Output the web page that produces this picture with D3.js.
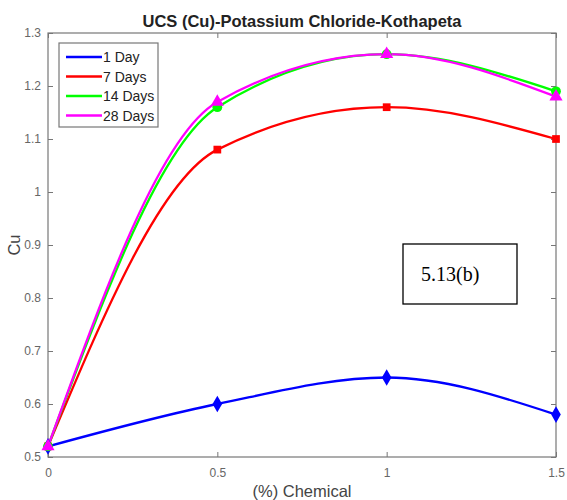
<!DOCTYPE html>
<html>
<head>
<meta charset="utf-8">
<title>UCS (Cu)-Potassium Chloride-Kothapeta</title>
<script src="https://cdn.jsdelivr.net/npm/d3@7/dist/d3.min.js"></script>
<style>
  body { margin: 0; background: #fff; }
  svg { display: block; font-family: "Liberation Sans", Arial, sans-serif; }
</style>
</head>
<body>
<svg id="viz" width="567" height="500"></svg>
<script>
// chart data
var chemical = [0, 0.5, 1, 1.5];
var seriesNames = ["1 Day", "7 Days", "14 Days", "28 Days"];
var seriesColors = ["#0000ff", "#ff0000", "#00ff00", "#ff00ff"];
var seriesMarkers = ["diamond", "square", "circle", "triangle"];
var day1 = [0.52, 0.60, 0.65, 0.58];
var day7 = [0.52, 1.08, 1.16, 1.10];
var day14 = [0.52, 1.16, 1.26, 1.19];
var day28 = [0.52, 1.17, 1.26, 1.18];
var xTicks = [0, 0.5, 1, 1.5];
var yTicks = [0.5, 0.6, 0.7, 0.8, 0.9, 1, 1.1, 1.2, 1.3];

var allSeries = [day1, day7, day14, day28];

var svg = d3.select("#viz");
// plot box edges (note: "top" is reserved on window)
var pLeft = 48, pRight = 556, pTop = 33, pBottom = 457;

var x = d3.scaleLinear().domain([0, 1.5]).range([pLeft, pRight]);
var y = d3.scaleLinear().domain([0.5, 1.3]).range([pBottom, pTop]);

var axisColor = "#777";
var labelColor = "#666";

// box
svg.append("rect")
    .attr("x", pLeft).attr("y", pTop)
    .attr("width", pRight - pLeft).attr("height", pBottom - pTop)
    .attr("fill", "none").attr("stroke", axisColor).attr("stroke-width", 1.2);

// axes (ticks inside)
var xAxis = svg.append("g").attr("transform", "translate(0," + pBottom + ")")
    .call(d3.axisBottom(x).tickValues(xTicks).tickSizeInner(-5).tickSizeOuter(0).tickPadding(11)
        .tickFormat(function(d) { return String(d); }));
var xTop = svg.append("g").attr("transform", "translate(0," + pTop + ")")
    .call(d3.axisTop(x).tickValues(xTicks).tickSizeInner(-5).tickSizeOuter(0).tickFormat(""));
var yAxis = svg.append("g").attr("transform", "translate(" + pLeft + ",0)")
    .call(d3.axisLeft(y).tickValues(yTicks).tickSizeInner(-5).tickSizeOuter(0).tickPadding(7)
        .tickFormat(function(d) { return String(+d.toFixed(1)); }));
var yRight = svg.append("g").attr("transform", "translate(" + pRight + ",0)")
    .call(d3.axisRight(y).tickValues(yTicks).tickSizeInner(-5).tickSizeOuter(0).tickFormat(""));

[xAxis, xTop, yAxis, yRight].forEach(function(g) {
    g.select(".domain").remove();
    g.selectAll("line").attr("stroke", axisColor);
    g.selectAll("text").attr("fill", labelColor).style("font-size", "12px");
});

// curves (shape-preserving, like pchip)
var line = d3.line()
    .x(function(d, i) { return x(chemical[i]); })
    .y(function(d) { return y(d); })
    .curve(d3.curveMonotoneX);

allSeries.forEach(function(s, k) {
    svg.append("path")
        .datum(s)
        .attr("d", line)
        .attr("fill", "none")
        .attr("stroke", seriesColors[k])
        .attr("stroke-width", 2.3);
});

// markers
var symbolType = {
    diamond: d3.symbolDiamond,
    square: d3.symbolSquare,
    circle: d3.symbolCircle,
    triangle: d3.symbolTriangle
};
var symbolSize = { diamond: 80, square: 60, circle: 75, triangle: 75 };

allSeries.forEach(function(s, k) {
    var m = seriesMarkers[k];
    svg.append("g").selectAll("path")
        .data(s)
        .enter()
        .append("path")
        .attr("transform", function(d, i) { return "translate(" + x(chemical[i]) + "," + y(d) + ")"; })
        .attr("d", d3.symbol().type(symbolType[m]).size(symbolSize[m]))
        .attr("fill", seriesColors[k]);
});

// title
svg.append("text")
    .attr("x", 302).attr("y", 27)
    .attr("text-anchor", "middle")
    .style("font-size", "16.5px").style("font-weight", "bold")
    .attr("fill", "#222")
    .text("UCS (Cu)-Potassium Chloride-Kothapeta");

// axis labels
svg.append("text")
    .attr("x", 302).attr("y", 497)
    .attr("text-anchor", "middle")
    .style("font-size", "16.5px")
    .attr("fill", "#444")
    .text("(%) Chemical");

svg.append("text")
    .attr("transform", "translate(20," + ((pTop + pBottom) / 2) + ") rotate(-90)")
    .attr("text-anchor", "middle")
    .style("font-size", "16.5px")
    .attr("fill", "#444")
    .text("Cu");

// legend
var legend = svg.append("g").attr("transform", "translate(59,43)");
legend.append("rect")
    .attr("width", 99).attr("height", 84)
    .attr("fill", "#fff").attr("stroke", axisColor).attr("stroke-width", 1.2);
seriesNames.forEach(function(name, k) {
    var ly = 14 + k * 19.5;
    legend.append("line")
        .attr("x1", 7).attr("x2", 43).attr("y1", ly).attr("y2", ly)
        .attr("stroke", seriesColors[k]).attr("stroke-width", 2.6);
    legend.append("text")
        .attr("x", 44).attr("y", ly + 5)
        .style("font-size", "14px")
        .attr("fill", "#222")
        .text(name);
});

// figure label box
svg.append("rect")
    .attr("x", 403).attr("y", 244).attr("width", 114).attr("height", 60)
    .attr("fill", "#fff").attr("stroke", "#000").attr("stroke-width", 1.3);
svg.append("text")
    .attr("x", 421).attr("y", 281)
    .style("font-family", "'Liberation Serif', 'Times New Roman', serif")
    .style("font-size", "20px")
    .attr("fill", "#000")
    .text("5.13(b)");
</script>
</body>
</html>
